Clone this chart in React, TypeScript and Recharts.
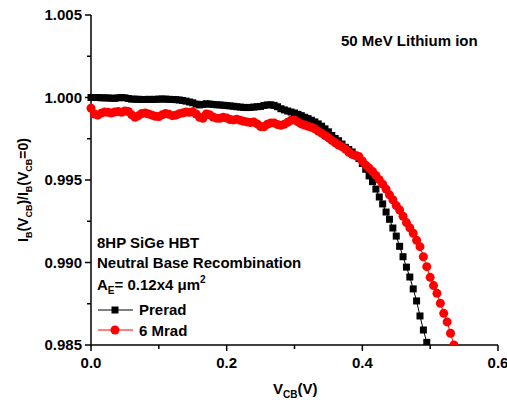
import React from "react";
import { LineChart, Line, XAxis, YAxis } from "recharts";

const FONT = '"Liberation Sans", Arial, sans-serif';

// bias voltage V_CB (V)
const VCB = [
  0, 0.005, 0.01, 0.015, 0.02, 0.025, 0.03, 0.035, 0.04, 0.045,
  0.05, 0.055, 0.06, 0.065, 0.07, 0.075, 0.08, 0.085, 0.09, 0.095,
  0.1, 0.105, 0.11, 0.115, 0.12, 0.125, 0.13, 0.135, 0.14, 0.145,
  0.15, 0.155, 0.16, 0.165, 0.17, 0.175, 0.18, 0.185, 0.19, 0.195,
  0.2, 0.205, 0.21, 0.215, 0.22, 0.225, 0.23, 0.235, 0.24, 0.245,
  0.25, 0.255, 0.26, 0.265, 0.27, 0.275, 0.28, 0.285, 0.29, 0.295,
  0.3, 0.305, 0.31, 0.315, 0.32, 0.325, 0.33, 0.335, 0.34, 0.345,
  0.35, 0.355, 0.36, 0.365, 0.37, 0.375, 0.38, 0.385, 0.39, 0.395,
  0.4, 0.405, 0.41, 0.415, 0.42, 0.425, 0.43, 0.435, 0.44, 0.445,
  0.45, 0.455, 0.46, 0.465, 0.47, 0.475, 0.48, 0.485, 0.49, 0.495,
  0.5, 0.505, 0.51, 0.515, 0.52, 0.525, 0.53, 0.535,
];

// normalized I_B, pre-irradiation
const PRERAD = [
  1.0, 1.0, 1.0, 0.99998, 0.99998, 0.99997, 0.99996, 0.99995, 0.99998, 1.0,
  0.99998, 0.99994, 0.9999, 0.9999, 0.99989, 0.99988, 0.99988, 0.99989, 0.99988, 0.99989,
  0.9999, 0.99991, 0.9999, 0.99989, 0.99988, 0.99987, 0.99985, 0.99982, 0.99978, 0.99973,
  0.99968, 0.9996, 0.99955, 0.99958, 0.99962, 0.9996, 0.99958, 0.99956, 0.99955, 0.99953,
  0.99951, 0.99949, 0.99947, 0.99944, 0.99942, 0.9994, 0.99939, 0.9994, 0.99942, 0.99944,
  0.99946, 0.99952, 0.99955, 0.99956, 0.99952, 0.99944, 0.99932, 0.99925, 0.99918, 0.99912,
  0.99906, 0.99898, 0.9989, 0.9988, 0.99872, 0.99862, 0.99852, 0.9984, 0.99826, 0.9981,
  0.99792, 0.9977, 0.99752, 0.99738, 0.99718, 0.99698, 0.99685, 0.9967, 0.9965, 0.9963,
  0.996, 0.99565, 0.99525, 0.9949, 0.99445, 0.99397, 0.99355, 0.99306, 0.99262, 0.99209,
  0.9916, 0.99098, 0.99035, 0.98972, 0.98912, 0.9884, 0.98767, 0.98676, 0.98591, 0.98516,
];

// normalized I_B, after 6 Mrad
const MRAD6 = [
  0.99935, 0.999, 0.99893, 0.99905, 0.99912, 0.9991, 0.99906, 0.99912, 0.99915, 0.9991,
  0.99918, 0.99915, 0.99895, 0.9988, 0.9989, 0.99903, 0.99906, 0.999, 0.99893, 0.99886,
  0.99885, 0.99895, 0.99903, 0.99898, 0.9989, 0.99893, 0.99902, 0.99906, 0.99912, 0.9991,
  0.99913, 0.999, 0.9988, 0.99874, 0.999, 0.99895, 0.99882, 0.99875, 0.99874, 0.9988,
  0.99876, 0.99866, 0.99864, 0.99868, 0.99862, 0.99856, 0.99852, 0.99848, 0.99852, 0.9984,
  0.99824, 0.99822, 0.99838, 0.99846, 0.99846, 0.99836, 0.99832, 0.99838, 0.9985, 0.99862,
  0.99864, 0.99852, 0.9984, 0.99833, 0.99826, 0.9982, 0.9981, 0.99796, 0.99784, 0.9977,
  0.99756, 0.9974, 0.99726, 0.99712, 0.99702, 0.99688, 0.99668, 0.99655, 0.99648, 0.99642,
  0.99615, 0.9959, 0.99572, 0.99552, 0.99528, 0.99502, 0.99475, 0.99445, 0.9941, 0.9938,
  0.99345, 0.99318, 0.9928, 0.99242, 0.9921, 0.99177, 0.99135, 0.99096, 0.99035, 0.98975,
  0.9891, 0.9886, 0.98813, 0.98753, 0.98692, 0.9864, 0.98571, 0.985,
];

const X_TICKS = [0, 0.1, 0.2, 0.3, 0.4, 0.5, 0.6];
const Y_TICKS = [0.985, 0.9875, 0.99, 0.9925, 0.995, 0.9975, 1.0, 1.0025, 1.005];

const preradData = PRERAD.map((y, i) => ({ x: VCB[i], y }));
const mradData = MRAD6.map((y, i) => ({ x: VCB[i], y }));

const XTick = ({ x, y, payload }: any) => {
  const major = Math.round(payload.value * 10) % 2 === 0;
  return (
    <g>
      <line x1={x} x2={x} y1={y} y2={y + (major ? 6 : 4)} stroke="#000" strokeWidth={1.5} />
      {major && (
        <text x={x} y={y + 23} textAnchor="middle" fontFamily={FONT} fontWeight="bold" fontSize={15} fill="#000">
          {payload.value.toFixed(1)}
        </text>
      )}
    </g>
  );
};

const YTick = ({ x, y, payload }: any) => {
  const major = Math.round((payload.value - 0.985) / 0.0025) % 2 === 0;
  return (
    <g>
      <line x1={x} x2={x - (major ? 6 : 4)} y1={y} y2={y} stroke="#000" strokeWidth={1.5} />
      {major && (
        <text x={x - 9} y={y + 5} textAnchor="end" fontFamily={FONT} fontWeight="bold" fontSize={15} fill="#000">
          {payload.value.toFixed(3)}
        </text>
      )}
    </g>
  );
};

const SquareDot = (props: any) => {
  const { cx, cy, index } = props;
  return <rect key={`sq-${index}`} x={cx - 3.5} y={cy - 3.5} width={7} height={7} fill="#000" />;
};

export default function App() {
  return (
    <div style={{ position: "absolute", left: 0, top: 0, width: 507, height: 403, background: "#fff" }}>
      <LineChart width={507} height={403} margin={{ top: 15, right: 9, bottom: 0, left: 0 }}>
        <XAxis
          type="number"
          dataKey="x"
          domain={[0, 0.6]}
          ticks={X_TICKS}
          tick={<XTick />}
          tickLine={false}
          tickSize={0}
          tickMargin={0}
          height={58}
          axisLine={{ stroke: "#000", strokeWidth: 1.5 }}
          interval={0}
        />
        <XAxis
          xAxisId="top"
          orientation="top"
          type="number"
          domain={[0, 0.6]}
          tick={false}
          tickLine={false}
          height={0}
          axisLine={{ stroke: "#000", strokeWidth: 1.5 }}
        />
        <YAxis
          type="number"
          domain={[0.985, 1.005]}
          ticks={Y_TICKS}
          tick={<YTick />}
          tickLine={false}
          tickSize={0}
          tickMargin={0}
          width={91}
          interval={0}
          allowDataOverflow
          axisLine={{ stroke: "#000", strokeWidth: 1.5 }}
        />
        <YAxis
          yAxisId="right"
          orientation="right"
          type="number"
          domain={[0.985, 1.005]}
          tick={false}
          tickLine={false}
          width={0}
          axisLine={{ stroke: "#000", strokeWidth: 1.5 }}
        />
        <Line
          data={preradData}
          dataKey="y"
          stroke="#000"
          strokeWidth={1}
          dot={SquareDot}
          activeDot={false}
          isAnimationActive={false}
        />
        <Line
          data={mradData}
          dataKey="y"
          stroke="#ff0000"
          strokeWidth={1}
          dot={{ r: 4.5, fill: "#ff0000", stroke: "none" }}
          activeDot={false}
          isAnimationActive={false}
        />
      </LineChart>
      <svg
        width={507}
        height={403}
        style={{ position: "absolute", left: 0, top: 0, pointerEvents: "none" }}
        fontFamily={FONT}
        fontWeight="bold"
        fill="#000"
      >
        <text x={341} y={46} fontSize={15}>50 MeV Lithium ion</text>
        <text x={97} y={248} fontSize={15}>8HP SiGe HBT</text>
        <text x={97} y={268} fontSize={15}>Neutral Base Recombination</text>
        <text x={97} y={290} fontSize={15}>
          A<tspan fontSize={10} dy={4}>E</tspan>
          <tspan dy={-4}>= 0.12x4 μm</tspan>
          <tspan fontSize={10} dy={-7}>2</tspan>
        </text>
        <line x1={98} x2={133} y1={310} y2={310} stroke="#000" strokeWidth={1} />
        <rect x={111.5} y={306.5} width={7} height={7} fill="#000" />
        <text x={139} y={315} fontSize={15}>Prerad</text>
        <line x1={98} x2={133} y1={330} y2={330} stroke="#ff0000" strokeWidth={1} />
        <circle cx={115} cy={330} r={4.5} fill="#ff0000" />
        <text x={139} y={336} fontSize={15}>6 Mrad</text>
        <text x={273} y={394} fontSize={15}>
          V<tspan fontSize={10} dy={4}>CB</tspan>
          <tspan dy={-4}>(V)</tspan>
        </text>
        <text x={28} y={190} fontSize={14} textAnchor="middle" transform="rotate(-90 28 190)">
          I<tspan fontSize={9} dy={4}>B</tspan>
          <tspan dy={-4}>(V</tspan>
          <tspan fontSize={9} dy={4}>CB</tspan>
          <tspan dy={-4}>)/I</tspan>
          <tspan fontSize={9} dy={4}>B</tspan>
          <tspan dy={-4}>(V</tspan>
          <tspan fontSize={9} dy={4}>CB</tspan>
          <tspan dy={-4}>=0)</tspan>
        </text>
      </svg>
    </div>
  );
}
